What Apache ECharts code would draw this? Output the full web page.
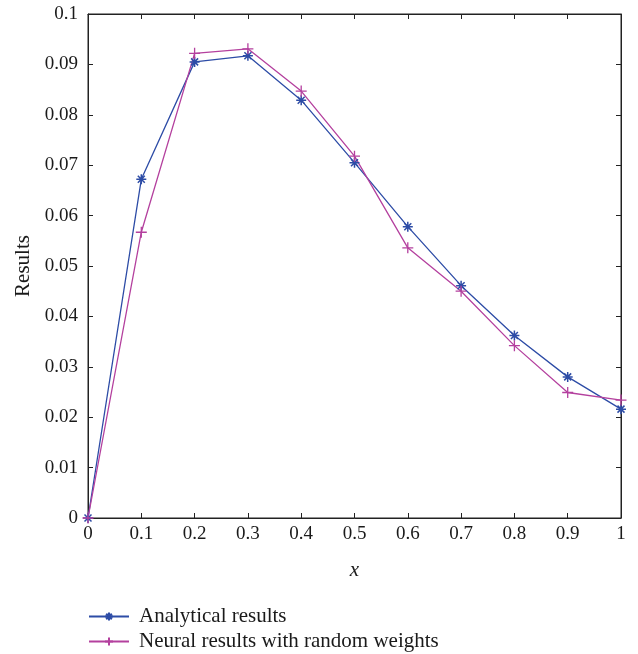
<!DOCTYPE html>
<html>
<head>
<meta charset="utf-8">
<script src="https://cdn.jsdelivr.net/npm/echarts@6/dist/echarts.min.js"></script>
<style>html,body{margin:0;padding:0;background:#fff}#c{width:638px;height:654px}</style>
</head>
<body>
<div id="c"></div>
<script>
const xValues = [0, 0.1, 0.2, 0.3, 0.4, 0.5, 0.6, 0.7, 0.8, 0.9, 1.0];
const analytical = [0, 0.0672, 0.0905, 0.0917, 0.0829, 0.0705, 0.0578, 0.0461, 0.0362, 0.0280, 0.0216];
const neural = [0, 0.0567, 0.0922, 0.0931, 0.0847, 0.0718, 0.0536, 0.0450, 0.0342, 0.0249, 0.0234];
const seriesNames = ['Analytical results', 'Neural results with random weights'];

const FONT = 'Liberation Serif';
const BLUE = '#2d4ca6';
const MAG = '#b4409e';
const TXT = '#1a1a1a';
const pair = (xs, ys) => xs.map((x, i) => [x, ys[i]]);
const fmt = v => String(+v.toFixed(2));

function tick() { return {show: true, inside: true, length: 5, lineStyle: {color: '#222', width: 1}}; }
function line() { return {show: true, onZero: false, lineStyle: {color: '#222', width: 1}}; }

const chart = echarts.init(document.getElementById('c'));
chart.setOption({
  animation: false,
  backgroundColor: '#fff',
  grid: {left: 88, top: 14, width: 533, height: 504, containLabel: false,
         show: true, borderColor: '#222', borderWidth: 1, backgroundColor: 'transparent'},
  xAxis: [
    {type: 'value', min: 0, max: 1, interval: 0.1, position: 'bottom',
     axisLine: line(), axisTick: tick(), splitLine: {show: false},
     axisLabel: {formatter: fmt, fontFamily: FONT, fontSize: 19, color: TXT, margin: 7},
     name: 'x', nameLocation: 'middle', nameGap: 42,
     nameTextStyle: {fontFamily: FONT, fontSize: 21, fontStyle: 'italic', color: TXT}},
    {type: 'value', min: 0, max: 1, interval: 0.1, position: 'top',
     axisLine: line(), axisTick: tick(), splitLine: {show: false},
     axisLabel: {show: false}}
  ],
  yAxis: [
    {type: 'value', min: 0, max: 0.1, interval: 0.01, position: 'left',
     axisLine: line(), axisTick: tick(), splitLine: {show: false},
     axisLabel: {formatter: fmt, fontFamily: FONT, fontSize: 19, color: TXT, margin: 10},
     name: 'Results', nameLocation: 'middle', nameGap: 54, nameRotate: 90,
     nameTextStyle: {fontFamily: FONT, fontSize: 21, color: TXT}},
    {type: 'value', min: 0, max: 0.1, interval: 0.01, position: 'right',
     axisLine: line(), axisTick: tick(), splitLine: {show: false},
     axisLabel: {show: false}}
  ],
  legend: {
    orient: 'vertical', left: 88, top: 606, padding: 0, itemGap: 4, itemWidth: 40, itemHeight: 10,
    textStyle: {fontFamily: FONT, fontSize: 21, color: TXT, padding: [0, 0, 0, 5]},
    data: seriesNames
  },
  series: [
    {name: seriesNames[0], type: 'line', data: pair(xValues, analytical),
     symbol: 'path://M5,0L5,10M0,5L10,5M1.5,1.5L8.5,8.5M1.5,8.5L8.5,1.5', symbolSize: 10,
     lineStyle: {color: BLUE, width: 1.3},
     itemStyle: {color: BLUE, borderColor: BLUE, borderWidth: 1.5}},
    {name: seriesNames[1], type: 'line', data: pair(xValues, neural),
     symbol: 'path://M5,0L5,10M0,5L10,5', symbolSize: 11,
     lineStyle: {color: MAG, width: 1.3},
     itemStyle: {color: MAG, borderColor: MAG, borderWidth: 1.3}},
    {name: 'frame', type: 'line', xAxisIndex: 1, yAxisIndex: 1, data: [],
     symbol: 'none', silent: true, tooltip: {show: false}}
  ]
});
</script>
</body>
</html>
